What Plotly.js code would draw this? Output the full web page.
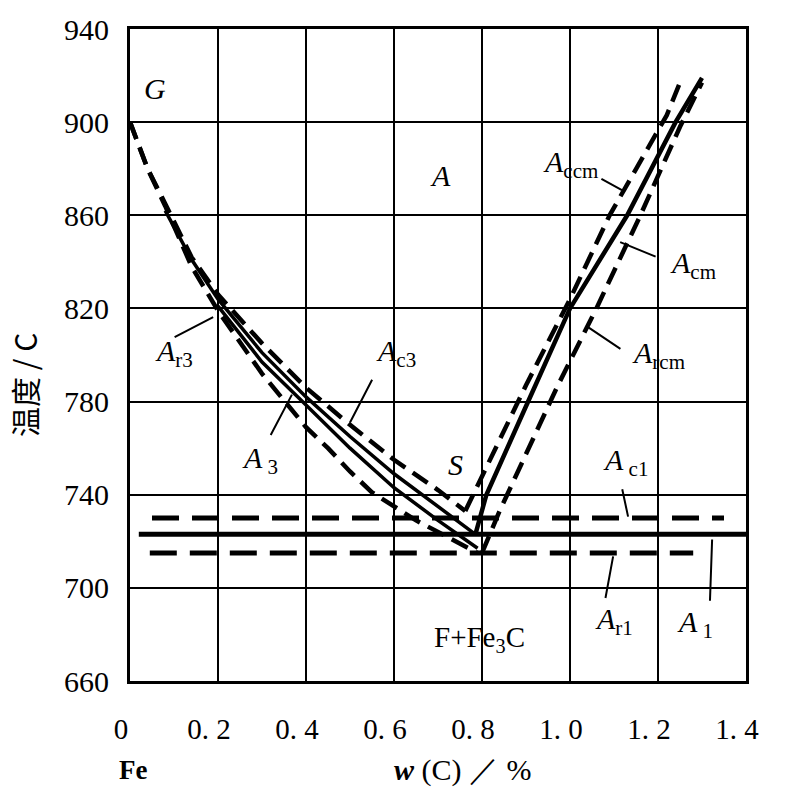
<!DOCTYPE html>
<html><head><meta charset="utf-8">
<script src="https://cdn.plot.ly/plotly-3.0.1.min.js"></script>
<style>html,body{margin:0;padding:0;background:#fff}</style>
</head><body><div id="chart" style="width:785px;height:801px"></div>
<script>
// ---- axis ticks ----
const xTicks = [0, 0.2, 0.4, 0.6, 0.8, 1.0, 1.2, 1.4];
const xTickText = ["0", "0. 2", "0. 4", "0. 6", "0. 8", "1. 0", "1. 2", "1. 4"];
const yTicks = [660, 700, 740, 780, 820, 860, 900, 940];

// ---- GS region curves (w(C) %, temperature °C) ----
const ac3X = [0, 0.04, 0.08, 0.14, 0.2, 0.3, 0.4, 0.5, 0.6, 0.7, 0.762];
const ac3Y = [900, 880, 865, 842, 826, 805, 786, 770, 755, 742, 733];
const a3X  = [0.08, 0.14, 0.2, 0.3, 0.4, 0.5, 0.6, 0.7, 0.785];
const a3Y  = [862, 841, 824, 801, 782, 765, 749, 735, 723];
const a3bX = [0.2, 0.3, 0.4, 0.5, 0.6, 0.7, 0.79];
const a3bY = [821, 797, 778.5, 760, 743, 729, 717];
const ar3X = [0, 0.04, 0.08, 0.14, 0.2, 0.3, 0.4, 0.45, 0.5, 0.55, 0.65, 0.79];
const ar3Y = [900, 880, 864, 838, 819, 792, 769, 760, 750, 741, 729, 715];

// ---- ES region curves ----
const accmX = [0.762, 0.78, 0.9, 1.0, 1.09, 1.22, 1.25];
const accmY = [733, 740, 787, 824, 860, 903, 917];
const acmX  = [0.785, 0.81, 0.9, 1.0, 1.13, 1.24, 1.3];
const acmY  = [723, 740, 778, 820, 860, 900, 919];
const arcmX = [0.8, 0.84, 0.97, 1.06, 1.16, 1.25, 1.3];
const arcmY = [715, 733, 786, 820, 860, 898, 917];

// ---- horizontal eutectoid lines ----
const ac1X = [0.05, 1.35], ac1Y = [730, 730];
const a1X  = [0.02, 1.4],  a1Y  = [723, 723];
const ar1X = [0.045, 1.28], ar1Y = [715, 715];

const K = '#000';
const dashed = w => ({color: K, width: w, dash: '18px,9px'});
const solid = w => ({color: K, width: w});

const traces = [
  {x: ac3X, y: ac3Y, mode: 'lines', line: dashed(4.5), name: 'Ac3'},
  {x: a3X, y: a3Y, mode: 'lines', line: solid(3.5), name: 'A3'},
  {x: a3bX, y: a3bY, mode: 'lines', line: solid(3.5), name: 'A3b'},
  {x: ar3X, y: ar3Y, mode: 'lines', line: dashed(4.5), name: 'Ar3'},
  {x: accmX, y: accmY, mode: 'lines', line: dashed(4.5), name: 'Accm'},
  {x: acmX, y: acmY, mode: 'lines', line: solid(4.5), name: 'Acm'},
  {x: arcmX, y: arcmY, mode: 'lines', line: dashed(4.5), name: 'Arcm'},
  {x: ac1X, y: ac1Y, mode: 'lines', line: {color: K, width: 5, dash: '27px,13px'}, name: 'Ac1'},
  {x: a1X, y: a1Y, mode: 'lines', line: solid(5), name: 'A1'},
  {x: ar1X, y: ar1Y, mode: 'lines', line: {color: K, width: 5, dash: '27px,13px'}, name: 'Ar1'}
];

const serif = 'Liberation Serif, Times New Roman, serif';
const lab = (text, x, y, size) => ({
  x, y, xref: 'x', yref: 'y', text, showarrow: false,
  xanchor: 'center', yanchor: 'middle',
  font: {family: serif, size: size || 30, color: K}
});
const lead = (x1, y1, x0, y0) => ({
  x: x1, y: y1, ax: x0, ay: y0, xref: 'x', yref: 'y', axref: 'x', ayref: 'y',
  text: '', showarrow: true, arrowhead: 0, arrowwidth: 2, arrowcolor: K
});

const annotations = [
  lab('<i>G</i>', 0.057, 914.5),
  lab('<i>A</i>', 0.705, 877),
  lab('<i>S</i>', 0.739, 753),
  lab('<i>A</i><sub>r3</sub>', 0.1, 801),
  lab('<i>A</i><sub> 3</sub>', 0.295, 755),
  lab('<i>A</i><sub>c3</sub>', 0.605, 801),
  lab('<i>A</i><sub>ccm</sub>', 1.0, 882),
  lab('<i>A</i><sub>cm</sub>', 1.28, 838.6),
  lab('<i>A</i><sub>rcm</sub>', 1.2, 800),
  lab('<i>A</i><sub> c1</sub>', 1.125, 754),
  lab('<i>A</i><sub>r1</sub>', 1.1, 685.6),
  lab('<i>A</i><sub> 1</sub>', 1.285, 684.3),
  lab('F+Fe<sub>3</sub>C', 0.795, 678, 29),
  lead(0.189, 816.3, 0.098, 807.3),
  lead(0.368, 783, 0.318, 765),
  lead(0.5, 771, 0.552, 790),
  lead(1.118, 870.8, 1.068, 876),
  lead(1.114, 848.5, 1.198, 842),
  lead(1.041, 812, 1.118, 802.2),
  lead(1.132, 730.6, 1.118, 743),
  lead(1.098, 713.5, 1.08, 695),
  lead(1.323, 720.8, 1.318, 693.8),
  {x: 0.005, y: -0.137, xref: 'paper', yref: 'paper', xanchor: 'center', yanchor: 'middle',
   text: '<b>Fe</b>', showarrow: false, font: {family: serif, size: 27, color: K}},
  {x: 0.54, y: -0.137, xref: 'paper', yref: 'paper', xanchor: 'center', yanchor: 'middle',
   text: '<b><i>w</i></b> (C) ／ %', showarrow: false, font: {family: serif, size: 30, color: K}},
  {x: -0.172, y: 0.454, xref: 'paper', yref: 'paper', xanchor: 'center', yanchor: 'middle',
   text: '温度 / C', textangle: -90, showarrow: false,
   font: {family: 'Noto Sans CJK SC, sans-serif', size: 30, color: K}}
];

const layout = {
  width: 785, height: 801,
  margin: {l: 130, r: 39, t: 29, b: 120},
  paper_bgcolor: '#fff', plot_bgcolor: '#fff',
  showlegend: false,
  xaxis: {
    range: [0, 1.4], tickvals: xTicks, ticktext: xTickText,
    showgrid: true, gridcolor: K, gridwidth: 2,
    showline: true, linecolor: K, linewidth: 3, mirror: true,
    zeroline: false, ticks: '', ticklabelstandoff: 20, ticklabelshift: -9,
    tickfont: {family: serif, size: 29, color: K}
  },
  yaxis: {
    range: [660, 940], tickvals: yTicks,
    showgrid: true, gridcolor: K, gridwidth: 2,
    showline: true, linecolor: K, linewidth: 3, mirror: true,
    zeroline: false, ticks: '', ticklabelstandoff: 12,
    tickfont: {family: serif, size: 30, color: K}
  },
  annotations
};

Plotly.newPlot('chart', traces, layout, {displayModeBar: false, staticPlot: true});
</script>
</body></html>
